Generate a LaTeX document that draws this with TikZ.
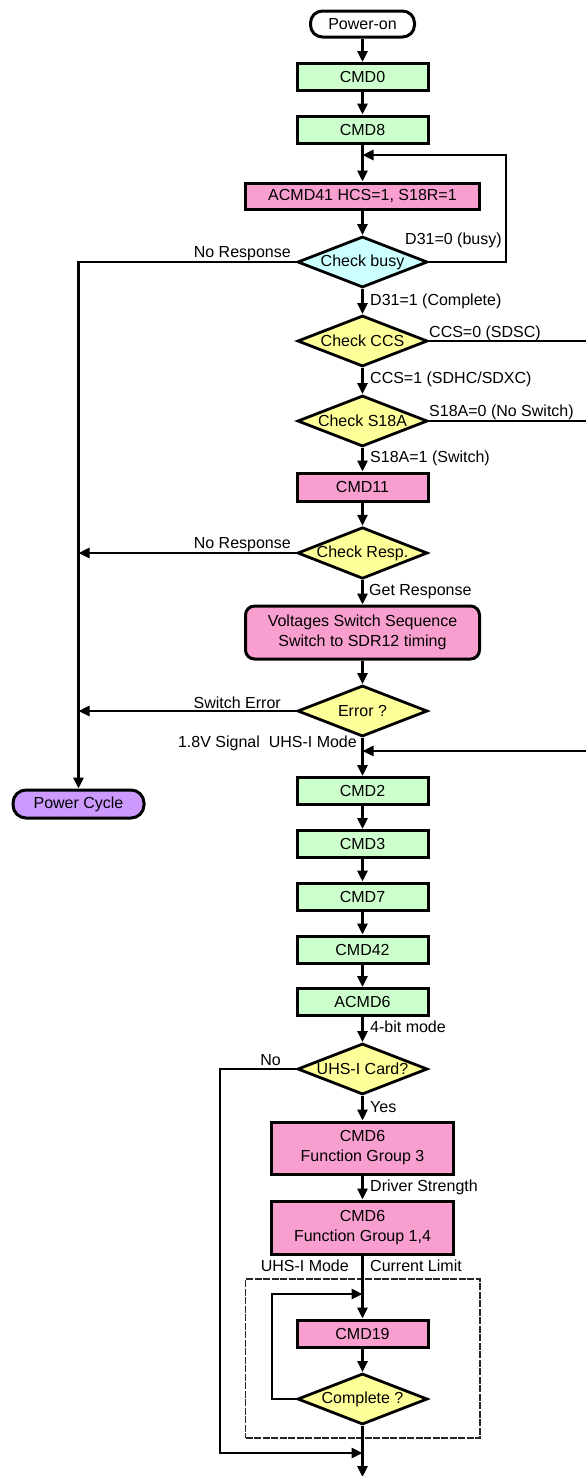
\documentclass[tikz,border=0pt]{standalone}
\usepackage{fontspec}
\setmainfont{Liberation Sans}
\usetikzlibrary{shapes.geometric,arrows.meta}
\definecolor{cgreen}{HTML}{CCFFCC}
\definecolor{cpink}{HTML}{F99FCF}
\definecolor{ccyan}{HTML}{CCFFFF}
\definecolor{cyel}{HTML}{FFFF99}
\definecolor{cpurp}{HTML}{CC99FF}
\begin{document}
\begin{tikzpicture}[x=1pt,y=-1pt,
  every node/.style={font=\fontsize{16pt}{20pt}\selectfont},
  box/.style={draw, line width=3pt, rectangle, inner sep=0pt, minimum width=131pt, minimum height=27pt, align=center},
  gbox/.style={box, fill=cgreen},
  pbox/.style={box, fill=cpink},
  dia/.style={draw, line width=2.8pt, diamond, aspect=2.5, inner sep=0pt, minimum width=130pt, minimum height=51pt, fill=cyel},
  lab/.style={inner sep=0pt},
  arr/.style={line width=2.8pt, -{Triangle[length=11pt,width=10pt]}},
  ln/.style={line width=2.8pt},
]
\useasboundingbox[fill=white] (0,0) rectangle (586,1476);

% nodes
\node[box, rounded corners=12pt, minimum width=104pt, minimum height=26pt, fill=white] (pon) at (362.5,24) {Power-on};
\node[gbox] (cmd0) at (362.5,77) {CMD0};
\node[gbox] (cmd8) at (362.5,129.5) {CMD8};
\node[pbox, minimum width=234pt, minimum height=26pt] (acmd41) at (362.5,196) {ACMD41 HCS=1, S18R=1};
\node[dia, fill=ccyan] (busy) at (362.5,262) {Check busy};
\node[dia] (ccs) at (362.5,341) {Check CCS};
\node[dia] (s18a) at (362.5,421) {Check S18A};
\node[pbox, minimum height=28pt] (cmd11) at (362.5,487) {CMD11};
\node[dia] (resp) at (362.5,553) {Check Resp.};
\node[pbox, rounded corners=9pt, minimum width=234pt, minimum height=53pt] (volt) at (362.5,632.5) {Voltages Switch Sequence\\Switch to SDR12 timing};
\node[dia] (err) at (362.5,711) {Error ?};
\node[box, rounded corners=13pt, minimum height=28pt, fill=cpurp] (pcyc) at (78.5,804) {Power Cycle};
\node[gbox] (cmd2) at (362.5,791) {CMD2};
\node[gbox] (cmd3) at (362.5,844) {CMD3};
\node[gbox] (cmd7) at (362.5,896.5) {CMD7};
\node[gbox] (cmd42) at (362.5,949.5) {CMD42};
\node[gbox] (acmd6) at (362.5,1002) {ACMD6};
\node[dia] (uhs) at (362.5,1069) {UHS-I Card?};
\node[pbox, minimum width=182pt, minimum height=52pt] (fg3) at (362.5,1148) {CMD6\\Function Group 3};
\node[pbox, minimum width=182pt, minimum height=53pt] (fg14) at (362.5,1227.5) {CMD6\\Function Group 1,4};
\node[draw=black!85, dash pattern=on 7pt off 1.5pt, line width=1.6pt, minimum width=234.5pt, minimum height=159pt, inner sep=0pt] (dbox) at (362.75,1358.5) {};
\node[pbox] (cmd19) at (362.5,1333.5) {CMD19};
\node[dia] (compl) at (362.5,1399) {Complete ?};

% coordinates
\coordinate (j1) at (362.5,155);
\coordinate (bR) at (506,155);
\coordinate (L1) at (78.5,262);
\coordinate (L2) at (78.5,553);
\coordinate (L3) at (78.5,711);
\coordinate (R1) at (586,341);
\coordinate (R2) at (586,421);
\coordinate (R3) at (586,751);
\coordinate (j2) at (362.5,751);
\coordinate (L4) at (220,1069);
\coordinate (L5) at (220,1453);
\coordinate (j4) at (362.5,1453);
\coordinate (j3) at (362.5,1294);
\coordinate (cL) at (272,1294);
\coordinate (bot) at (362.5,1477);

% connectors
\draw[arr] (pon) -- (cmd0);
\draw[arr] (cmd0) -- (cmd8);
\draw[arr] (cmd8) -- (acmd41);
\draw[arr] (busy.east) -| (bR) -- (j1);
\draw[arr] (acmd41) -- (busy.north);
\draw[arr] (busy.south) -- (ccs.north);
\draw[arr] (busy.west) -- (L1) -- (pcyc.north);
\draw[ln] (ccs.east) -- (R1);
\draw[arr] (ccs.south) -- (s18a.north);
\draw[ln] (s18a.east) -- (R2);
\draw[arr] (s18a.south) -- (cmd11.north);
\draw[arr] (cmd11.south) -- (resp.north);
\draw[arr] (resp.west) -- (L2);
\draw[arr] (resp.south) -- (volt.north);
\draw[arr] (volt.south) -- (err.north);
\draw[arr] (err.west) -- (L3);
\draw[arr] (err.south) -- (cmd2.north);
\draw[arr] (R3) -- (j2);
\draw[arr] (cmd2) -- (cmd3);
\draw[arr] (cmd3) -- (cmd7);
\draw[arr] (cmd7) -- (cmd42);
\draw[arr] (cmd42) -- (acmd6);
\draw[arr] (acmd6.south) -- (uhs.north);
\draw[arr] (uhs.south) -- (fg3.north);
\draw[arr] (uhs.west) -- (L4) -- (L5) -- (j4);
\draw[arr] (fg3) -- (fg14);
\draw[arr] (fg14.south) -- (cmd19.north);
\draw[arr] (compl.west) -| (cL) -- (j3);
\draw[arr] (cmd19.south) -- (compl.north);
\draw[arr] (compl.south) -- (bot);

% labels
\node[lab, anchor=west] (t1) at (405,240) {D31=0 (busy)};
\node[lab, anchor=east] (t2) at (291,254) {No Response};
\node[lab, anchor=west] (t3) at (370,301) {D31=1 (Complete)};
\node[lab, anchor=west] (t4) at (429,333) {CCS=0 (SDSC)};
\node[lab, anchor=west] (t5) at (370,379) {CCS=1 (SDHC/SDXC)};
\node[lab, anchor=west] (t6) at (429,412) {S18A=0 (No Switch)};
\node[lab, anchor=west] (t7) at (370,458) {S18A=1 (Switch)};
\node[lab, anchor=east] (t8) at (291,545) {No Response};
\node[lab, anchor=west] (t9) at (369,592) {Get Response};
\node[lab, anchor=east] (t10) at (281,703) {Switch Error};
\node[lab, anchor=east] (t11) at (357,743) {1.8V Signal~~UHS-I Mode};
\node[lab, anchor=west] (t12) at (370,1027) {4-bit mode};
\node[lab, anchor=east] (t13) at (281,1060) {No};
\node[lab, anchor=west] (t14) at (370,1107) {Yes};
\node[lab, anchor=west] (t15) at (370,1187) {Driver Strength};
\node[lab, anchor=east] (t16) at (349,1266) {UHS-I Mode};
\node[lab, anchor=west] (t17) at (370,1266) {Current Limit};
\end{tikzpicture}
\end{document}
